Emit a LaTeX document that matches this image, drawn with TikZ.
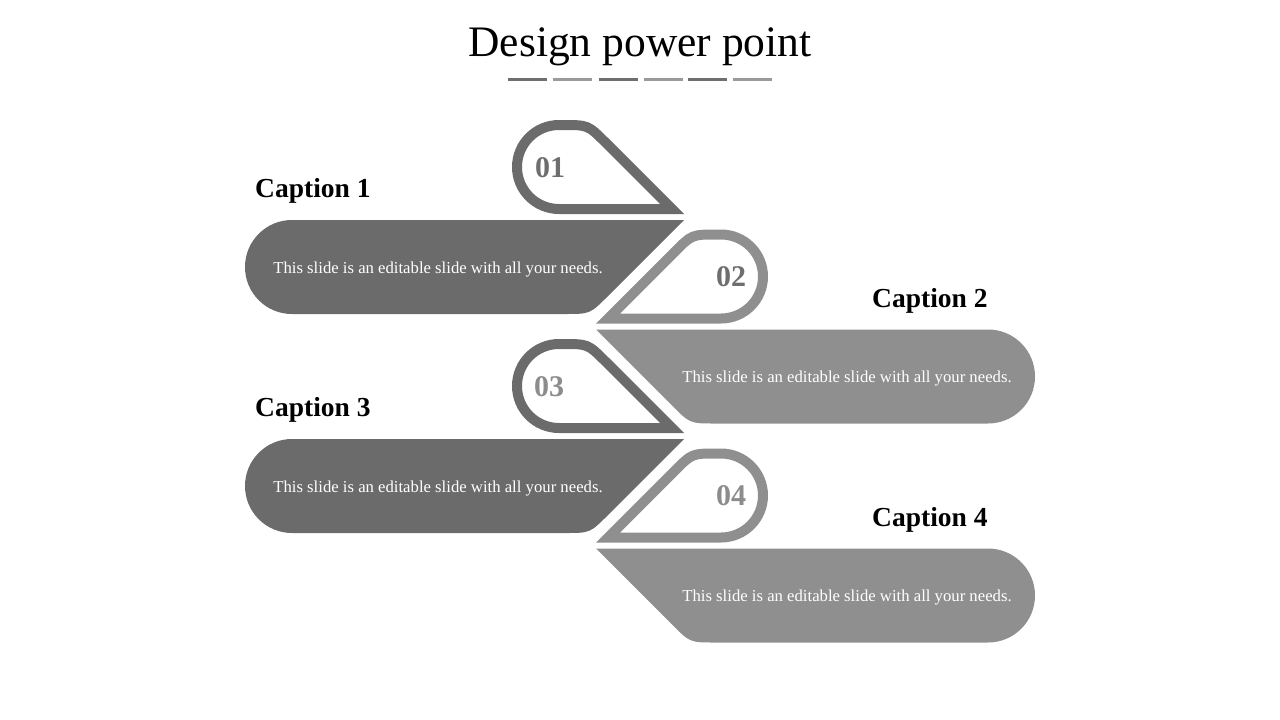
\documentclass[tikz,border=0pt]{standalone}
\usepackage{fontspec}
\setmainfont{Liberation Serif}
\definecolor{dk}{HTML}{6B6B6B}
\definecolor{lt}{HTML}{8F8F8F}
\definecolor{numdk}{HTML}{6E6E6E}
\definecolor{numlt}{HTML}{8C8C8C}
\definecolor{dashlt}{HTML}{9A9A9A}
\newcommand{\tabshape}{(684,214) -- (559,214) arc[start angle=90,end angle=270,radius=47] -- (561,120) .. controls (590,120) .. (610,140) -- cycle
  (660,204) -- (559,204) arc[start angle=90,end angle=270,radius=37] -- (565,130) .. controls (586,130) .. (601,145) -- cycle}
\newcommand{\bandshape}{(684,220) -- (292,220) arc[start angle=270,end angle=90,radius=47] -- (565,314) .. controls (590,314) .. (607.7,296.3) -- cycle}
\tikzset{
  title/.style={font=\fontsize{43.5}{50}\selectfont, anchor=base},
  caption/.style={font=\fontsize{27.5}{32}\selectfont\bfseries, anchor=base west, inner sep=0pt},
  body/.style={font=\fontsize{16.7}{20}\selectfont, text=white},
  num/.style={font=\fontsize{30}{34}\selectfont\bfseries},
  dashbar/.style={line width=2.6pt}
}
\begin{document}
\begin{tikzpicture}[x=1pt,y=-1pt]
\useasboundingbox (0,0) rectangle (1280,720);
\fill[white] (0,0) rectangle (1280,720);
% title
\node[title] (title) at (640,56) {Design power point};
\draw[dashbar,numdk] (508,79.5) -- (547,79.5);
\draw[dashbar,dashlt] (553,79.5) -- (592,79.5);
\draw[dashbar,numdk] (599,79.5) -- (638,79.5);
\draw[dashbar,dashlt] (644,79.5) -- (683,79.5);
\draw[dashbar,numdk] (688,79.5) -- (727,79.5);
\draw[dashbar,dashlt] (733,79.5) -- (772,79.5);
% row 1 (left, dark)
\fill[dk,even odd rule] \tabshape;
\fill[dk] \bandshape;
% row 2 (mirrored, light)
\begin{scope}[shift={(1280,109.5)},xscale=-1]
\fill[lt,even odd rule] \tabshape;
\fill[lt] \bandshape;
\end{scope}
% row 3
\begin{scope}[shift={(0,219)}]
\fill[dk,even odd rule] \tabshape;
\fill[dk] \bandshape;
\end{scope}
% row 4
\begin{scope}[shift={(1280,328.5)},xscale=-1]
\fill[lt,even odd rule] \tabshape;
\fill[lt] \bandshape;
\end{scope}
% numbers
\node[num,text=numdk] (n1) at (550,168) {01};
\node[num,text=numdk] (n2) at (731,277) {02};
\node[num,text=numlt] (n3) at (549,387) {03};
\node[num,text=numlt] (n4) at (731,496) {04};
% captions
\node[caption] (c1) at (255,197) {Caption 1};
\node[caption] (c2) at (872,307) {Caption 2};
\node[caption] (c3) at (255,416) {Caption 3};
\node[caption] (c4) at (872,526) {Caption 4};
% body texts
\node[body] (t1) at (438,270) {This slide is an editable slide with all your needs.};
\node[body] (t2) at (847,379) {This slide is an editable slide with all your needs.};
\node[body] (t3) at (438,489) {This slide is an editable slide with all your needs.};
\node[body] (t4) at (847,598) {This slide is an editable slide with all your needs.};
\end{tikzpicture}
\end{document}
